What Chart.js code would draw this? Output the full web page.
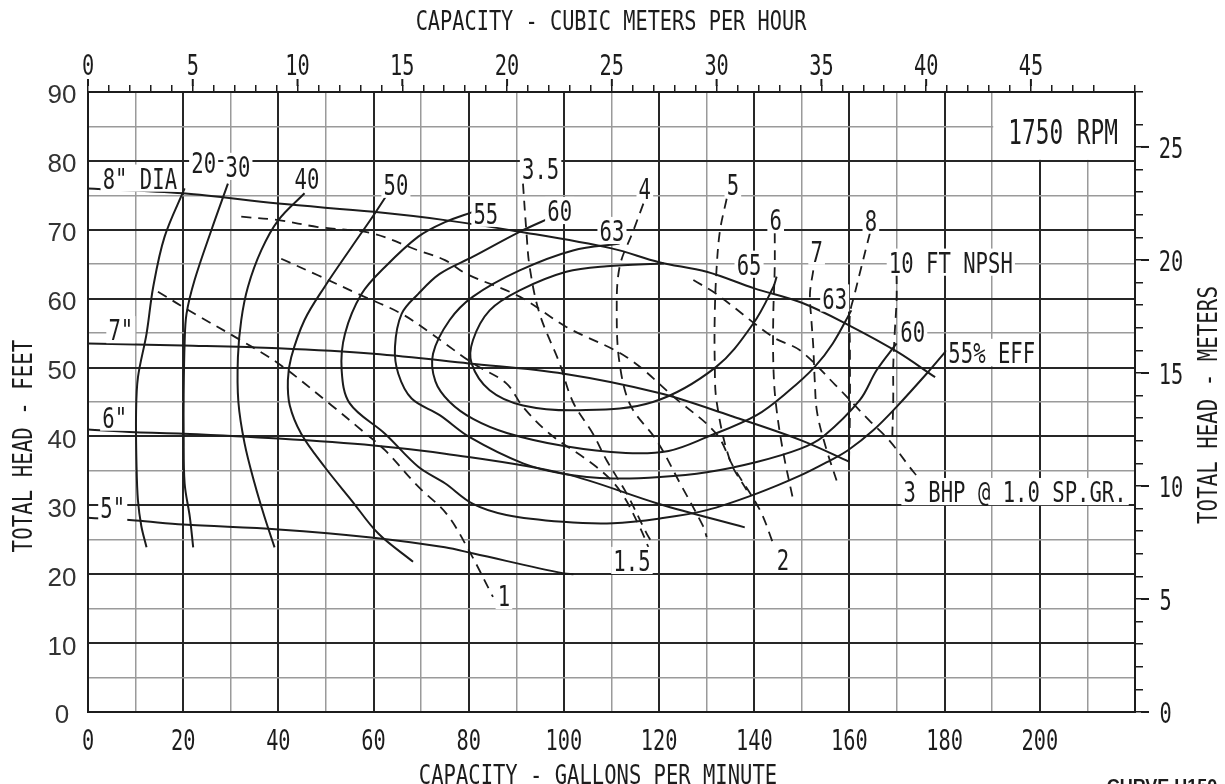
<!DOCTYPE html>
<html>
<head>
<meta charset="utf-8">
<script src="https://cdn.jsdelivr.net/npm/chart.js@4.4.1/dist/chart.umd.min.js"></script>
<style>
    html, body { margin: 0; padding: 0; background: #fff; }
    canvas { display: block; }
</style>
</head>
<body>
<canvas id="pumpChart" width="1225" height="784"></canvas>
<script>
// Head-capacity curves per impeller diameter [gpm, ft]
const head8 = [[0,76.0],[20,75.3],[40,73.8],[60,72.6],[75,71.4],[90,69.8],[110,67.3],[120,65.3],[130,63.9],[140,61.5],[150,59.4],[160,56.1],[170,52.3],[178,48.6]];
const head7 = [[0,53.5],[20,53.2],[40,52.8],[60,52.0],[80,50.6],[100,49.1],[120,46.3],[135,43.0],[150,39.4],[160,36.3]];
const head6 = [[0,41.0],[10,40.6],[20,40.4],[40,39.7],[60,38.7],[75,37.5],[100,34.6],[120,30.2],[138,26.8]];
const head5 = [[0,28.2],[10,27.8],[20,27.2],[40,26.5],[60,25.3],[75,23.9],[81,23.0],[100,20.1],[102,20.0]];

// Efficiency contours
const eff20 = [[20.3,76],[16.1,69],[13.7,61.7],[12.3,54.9],[10.5,48.6],[10.1,43.5],[10.2,35.6],[10.5,30.7],[11.2,27],[12.3,23.9]];
const eff30 = [[29.4,76.7],[25.9,69.9],[22.4,62.7],[20.7,57.8],[20.3,53.5],[20.1,46],[20.1,40.4],[20.3,33.2],[21.4,28.3],[22.1,23.9]];
const eff40 = [[45.5,75.3],[40,71.4],[36.4,67],[33.6,61.7],[32.2,56.9],[31.5,51.5],[31.6,45],[32.9,39],[35,33.2],[37.1,28.3],[39.2,23.9]];
const eff50 = [[63.4,75.7],[60.3,72.4],[55.4,67.5],[49.7,61.7],[45.5,56.9],[42.7,51.5],[42,48.2],[42.4,44.5],[44.8,40.4],[49.7,35.6],[55.4,30.7],[61,25.9],[68.3,21.8]];
const eff55 = [[80.9,72.6],[75,71.1],[69.4,69],[62.4,64.6],[57.5,60.7],[54,54.9],[53.3,49.6],[55,44.8],[62.4,40.4],[69.4,35.6],[75,33.2],[80.9,30.2],[87.9,28.6],[99.8,27.6],[110.3,27.4],[120.2,28.1],[130,29.3],[140.5,31.7],[149.6,34.3],[155.9,36.5],[159.7,38],[165,40.9],[169.9,44.3],[176.2,49.1],[180.4,52.5]];
const eff60 = [[97.7,71.9],[90.7,69.7],[80.9,66.1],[73.9,63.6],[69.4,60.7],[65.9,57.8],[64.5,53],[65.2,49.1],[68,45.5],[73.9,43.1],[80.2,39.9],[91.4,36.1],[99.8,34.6],[110.3,33.9],[120.2,34.1],[130,34.8],[140.5,36.3],[149.6,38.2],[154.5,40],[162.2,45.3],[165.7,49.6],[169.9,53.5]];
const eff63 = [[111.7,68],[101.9,67],[90.7,64.1],[80.9,60.3],[76,56.9],[72.5,52],[73,48],[76,45],[81,42.5],[88,40.5],[100,38.6],[113,37.6],[122,37.9],[130,39.9],[140.5,43.1],[147.4,46.7],[152.7,50.1],[156.5,53.5],[160.4,58.3]];
const eff65 = [[121,65.1],[109,64.7],[100.5,63.9],[90.7,61.2],[84.4,58.3],[80.9,54],[80.6,50.6],[84.4,46.7],[91.4,44.5],[103.3,43.8],[118.7,45],[132,50.1],[139.8,56.4],[144,61.7],[144.7,63.2]];

// Brake horsepower lines (dashed)
const bhp1 = [[14.7,61],[22.4,57.8],[31.5,54.2],[40,50.6],[51.2,44.5],[57.5,40.9],[62.4,38],[69.4,32.7],[75.3,28.8],[80,23.5],[85.1,16.7]];
const bhp15 = [[40.6,65.8],[48.3,63.4],[56.7,60.7],[65.9,57.8],[72.2,54.9],[75,53.5],[80.9,50.6],[87.9,47.7],[91.4,44.3],[97,40.4],[106.8,35.6],[111.7,32.2],[115.9,26.9],[118,23.5]];
const bhp2 = [[32.2,71.9],[40,71.4],[48.3,70.4],[59.6,69.5],[69.4,67],[75,65.6],[79.5,63.6],[90.7,60.3],[100.5,55.9],[113.2,51.5],[123.5,45.5],[132,40.4],[135.6,35.6],[141.2,29.3],[144,24.4]];
const bhp3 = [[127.2,62.7],[132,60.7],[144,54.4],[149.6,52.5],[157,47.5],[164.2,42.3],[168.4,39.4],[172.6,35.6],[174,34.4]];

// NPSH required lines (dashed)
const npsh35 = [[91.4,76.7],[92.1,69.9],[92.8,64.6],[94.9,57.8],[99.1,50.6],[101.9,45],[106.1,40.4],[109,36.5],[113.2,31.7],[117.4,25.9],[118.7,24.4]];
const npsh4 = [[116.7,73.8],[114.6,69.9],[111.7,64.6],[111.1,57.8],[111.7,50.6],[114,44.5],[119.5,39.4],[124.4,33.2],[129.3,26.9],[130,25.4]];
const npsh5 = [[134.2,74.5],[132.8,69.9],[132.1,64.6],[131.7,57.8],[131.7,50.6],[132.1,45],[134.9,36.5],[138.4,32.2]];
const npsh6 = [[144.3,69.5],[144.3,64.6],[144,57.8],[144,50.6],[144.5,45],[146,38],[148.2,30.7]];
const npsh7 = [[152.4,64.1],[151.7,60.7],[152,56.9],[152.4,53],[152.7,48.2],[153.2,43.5],[155,38.5],[157.3,33.6]];
const npsh8 = [[164.3,69.5],[162.5,64.6],[161.1,60.7],[160.1,57.8],[160.1,53],[160.1,43.8],[159.9,36.1]];
const npsh10 = [[169.9,63.6],[169.9,59.8],[169.5,54.9],[169.2,50.1],[169.2,45.3],[169,40]];

// Tick labels
const gpmTicks = [0,20,40,60,80,100,120,140,160,180,200];
const cmhTicks = [0,5,10,15,20,25,30,35,40,45];
const feetTicks = [0,10,20,30,40,50,60,70,80,90];
const meterTicks = [0,5,10,15,20,25];

// Curve labels [text, gpm, ft]
const curveLabels = [
    ['8" DIA', 10.9, 77.5], ['7"', 6.9, 55.5], ['6"', 5.6, 42.8], ['5"', 5.2, 29.7],
    ['20', 24.3, 79.8], ['30', 31.5, 79.2], ['40', 46, 77.5], ['50', 64.7, 76.6],
    ['55', 83.6, 72.4], ['60', 99.1, 72.8], ['63', 110.1, 69.9], ['65', 138.9, 65],
    ['63', 156.9, 60.1], ['60', 173.3, 55.3], ['55% EFF', 189.9, 52.2],
    ['3.5', 95.1, 78.9], ['4', 117, 76], ['5', 135.5, 76.6], ['6', 144.5, 71.5],
    ['7', 153.1, 66.9], ['8', 164.5, 71.4], ['10 FT NPSH', 181.3, 65.3],
    ['1', 87.4, 16.9], ['1.5', 114.3, 22], ['2', 146, 22.2], ['3 BHP @ 1.0 SP.GR.', 194.8, 32]
];

const GPM_PER_CMH = 4.4029;
const M_PER_FT = 0.3048;
const INK = '#1c1c1c';
const MONO = '"DejaVu Sans Mono", "Liberation Mono", monospace';

// Draw text squeezed horizontally (plotter style lettering)
function plotText(ctx, text, x, y, size, sx, opts = {}) {
    ctx.save();
    ctx.font = (opts.bold ? 'bold ' : '') + size + 'px ' + (opts.family || MONO);
    ctx.translate(x, y);
    if (opts.rotate) ctx.rotate(opts.rotate);
    ctx.scale(sx, 1);
    const w = ctx.measureText(text).width;
    const cap = size * 0.73;
    if (opts.mask) {
        ctx.fillStyle = '#fff';
        ctx.fillRect(-w / 2 - 3, -cap / 2 - 3, w + 6, cap + 6);
    }
    ctx.fillStyle = opts.color || INK;
    ctx.textAlign = 'center';
    ctx.textBaseline = 'alphabetic';
    ctx.fillText(text, 0, cap / 2);
    ctx.restore();
}

function line(points, dashed) {
    return {
        data: points.map(p => ({ x: p[0], y: p[1] })),
        showLine: true,
        borderColor: INK,
        borderWidth: dashed ? 1.8 : 2,
        borderDash: dashed ? [10, 7] : [],
        tension: 0.35,
        pointRadius: 0,
        fill: false,
        xAxisID: 'x',
        yAxisID: 'y'
    };
}

const overlay = {
    id: 'overlay',
    beforeDatasetsDraw(chart) {
        const ctx = chart.ctx;
        const xs = chart.scales.x, ys = chart.scales.y;
        // 1750 RPM box in the top right cell block
        const left = xs.getPixelForValue(190), bottom = ys.getPixelForValue(80);
        ctx.save();
        ctx.fillStyle = '#fff';
        ctx.fillRect(left + 1, chart.chartArea.top + 1, chart.chartArea.right - left - 2, bottom - chart.chartArea.top - 2);
        ctx.restore();
        plotText(ctx, '1750 RPM', xs.getPixelForValue(204.9), ys.getPixelForValue(84.3), 34, 0.67);
    },
    afterDatasetsDraw(chart) {
        const ctx = chart.ctx;
        const xs = chart.scales.x, ys = chart.scales.y;
        curveLabels.forEach(([t, q, h]) => {
            plotText(ctx, t, xs.getPixelForValue(q), ys.getPixelForValue(h), 29, 0.71, { mask: true });
        });
    },
    afterDraw(chart) {
        const ctx = chart.ctx;
        const { x, y, x2, y2 } = chart.scales;
        const area = chart.chartArea;

        // longer marks at the labelled secondary ticks
        ctx.save();
        ctx.strokeStyle = INK;
        ctx.lineWidth = 2;
        cmhTicks.forEach(v => {
            const px = x2.getPixelForValue(v);
            ctx.beginPath(); ctx.moveTo(px, area.top - 6); ctx.lineTo(px, area.top - 13); ctx.stroke();
        });
        meterTicks.forEach(v => {
            const py = y2.getPixelForValue(v);
            ctx.beginPath(); ctx.moveTo(area.right + 6, py); ctx.lineTo(area.right + 14, py); ctx.stroke();
        });
        ctx.restore();

        // tick labels
        gpmTicks.forEach(v => plotText(ctx, String(v), x.getPixelForValue(v), 739, 29, 0.7));
        cmhTicks.forEach(v => plotText(ctx, String(v), x2.getPixelForValue(v), 64, 29, 0.7));
        meterTicks.forEach(v => {
            const s = String(v);
            plotText(ctx, s, 1160 + s.length * 5.5, y2.getPixelForValue(v), 29, 0.7);
        });
        feetTicks.forEach(v => plotText(ctx, String(v), 62, y.getPixelForValue(v) + 2, 26, 1,
            { family: '"Liberation Sans", Arial, sans-serif', color: '#333' }));

        // axis titles
        plotText(ctx, 'CAPACITY - CUBIC METERS PER HOUR', 611, 21, 26, 0.78);
        plotText(ctx, 'CAPACITY - GALLONS PER MINUTE', 598, 774, 27, 0.76);
        plotText(ctx, 'TOTAL HEAD - FEET', 22, 446, 27, 0.77, { rotate: -Math.PI / 2 });
        plotText(ctx, 'TOTAL HEAD - METERS', 1207, 405, 27, 0.77, { rotate: -Math.PI / 2 });
        plotText(ctx, 'CURVE H150', 1162, 786, 20, 0.9, { bold: true, family: '"Liberation Sans", Arial, sans-serif' });
    }
};

const datasets = [
    line(head8), line(head7), line(head6), line(head5),
    line(eff20), line(eff30), line(eff40), line(eff50),
    line(eff55), line(eff60), line(eff63), line(eff65),
    line(bhp1, true), line(bhp15, true), line(bhp2, true), line(bhp3, true),
    line(npsh35, true), line(npsh4, true), line(npsh5, true), line(npsh6, true),
    line(npsh7, true), line(npsh8, true), line(npsh10, true)
];

const border = { display: true, color: INK, width: 2 };

new Chart(document.getElementById('pumpChart').getContext('2d'), {
    type: 'scatter',
    data: { datasets: datasets },
    options: {
        responsive: false,
        animation: false,
        layout: { padding: 0 },
        plugins: {
            legend: { display: false },
            tooltip: { enabled: false }
        },
        scales: {
            x: {
                type: 'linear',
                position: 'bottom',
                min: 0,
                max: 220,
                afterFit: s => { s.height = 72; },
                ticks: { display: false, stepSize: 10 },
                grid: {
                    drawTicks: false,
                    color: c => c.tick.value % 20 === 0 ? '#262626' : '#9a9a9a',
                    lineWidth: c => c.tick.value % 20 === 0 ? 2 : 1.5
                },
                border: border
            },
            x2: {
                type: 'linear',
                position: 'top',
                min: 0,
                max: 220 / GPM_PER_CMH,
                afterFit: s => { s.height = 92; },
                ticks: { display: false, stepSize: 1 },
                grid: { drawOnChartArea: false, drawTicks: true, tickLength: 7, color: INK, lineWidth: 1.5 },
                border: border
            },
            y: {
                type: 'linear',
                position: 'left',
                min: 0,
                max: 90,
                afterFit: s => { s.width = 88; },
                ticks: { display: false, stepSize: 5 },
                grid: {
                    drawTicks: false,
                    color: c => c.tick.value % 10 === 0 ? '#262626' : '#9a9a9a',
                    lineWidth: c => c.tick.value % 10 === 0 ? 2 : 1.5
                },
                border: border
            },
            y2: {
                type: 'linear',
                position: 'right',
                min: 0,
                max: 90 * M_PER_FT,
                afterFit: s => { s.width = 90; },
                ticks: { display: false, stepSize: 1 },
                grid: { drawOnChartArea: false, drawTicks: true, tickLength: 8, color: INK, lineWidth: 1.5 },
                border: border
            }
        }
    },
    plugins: [overlay]
});
</script>
</body>
</html>
